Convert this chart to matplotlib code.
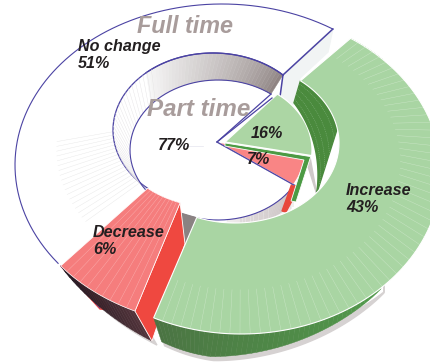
import numpy as np
import matplotlib
matplotlib.use("Agg")
import matplotlib.pyplot as plt
from matplotlib.collections import PolyCollection, LineCollection
from matplotlib.colors import to_rgb

plt.rcParams['font.family'] = ['Liberation Sans', 'DejaVu Sans']

# ------- data -------
full_labels = ["No change", "Decrease", "Increase"]
full_values = [51, 6, 43]
part_values = [77, 7, 16]
ring_titles = ["Full time", "Part time"]

# ------- colours -------
BLUE = "#4b43a3"
TITLE = "#a89c9b"
INK = "#231f20"
GREEN_TOP = "#a9d5a3"
GREEN_DARK = "#4a8a3d"
GREEN_MID = "#4c9a44"
RED_TOP = "#f57d7d"
RED_FACE = "#ef4840"
SHADOW = "#d6d2d2"

full_cum = np.cumsum([0] + full_values) / 100
part_cum = np.cumsum([0] + part_values) / 100


def warp(deg, r, phi=140.0):
    # tilted disc: angles bunch up towards the far side
    z = np.exp(1j * np.radians(deg))
    a = r * np.exp(1j * np.radians(phi))
    w = (z + a) / (1 + np.conj(a) * z)
    t = np.degrees(np.unwrap(np.angle(w)))
    return t + 360 * np.round((deg[0] - t[0]) / 360)


def rim(f0, f1, ell, n=80):
    start, cx, cy, rx, ry, r = ell[:6]
    phi = ell[6] if len(ell) > 6 else 140.0
    deg = start + 360 * np.linspace(f0, f1, n)
    t = np.radians(warp(deg, r, phi))
    return np.column_stack([cx + rx * np.cos(t), cy - ry * np.sin(t)])


def ring(f0, f1, outer, inner):
    return np.vstack([rim(f0, f1, outer), rim(f0, f1, inner)[::-1]])


def blend(c0, c1, u):
    c0, c1 = np.array(to_rgb(c0)), np.array(to_rgb(c1))
    return c0 + (c1 - c0) * np.clip(u, 0, 1)


def strip(ax, top, bottom, c0, c1, gamma=1.0):
    # wall made of small quads, shaded from c0 to c1
    quads, cols = [], []
    n = len(top) - 1
    for i in range(n):
        quads.append([top[i], top[i + 1], bottom[i + 1], bottom[i]])
        cols.append(blend(c0, c1, (i / n) ** gamma))
    ax.add_collection(PolyCollection(quads, facecolors=cols, edgecolors=cols, linewidths=0.3))


def radial(ax, f0, f1, outer, inner, n, reach, color, lw, alpha=1.0):
    # thin facet lines running across a ring
    fr = np.linspace(f0, f1, n + 2)[1:-1]
    a = np.array([rim(f, f, inner, 1)[0] for f in fr])
    b = np.array([rim(f, f, outer, 1)[0] for f in fr])
    ends = a + (b - a) * reach
    segs = [[p, q] for p, q in zip(a, ends)]
    ax.add_collection(LineCollection(segs, colors=color, linewidths=lw, alpha=alpha))


fig = plt.figure(figsize=(4.3, 3.62), dpi=100)
ax = fig.add_axes([0, 0, 1, 1])
ax.set_xlim(0, 430)
ax.set_ylim(362, 0)
ax.axis("off")

# ellipses: start angle, centre x/y, radius x/y, tilt (and tilt direction)
outer_rim = (45.8, 222, 165, 207, 161, 0.103)
dec_outer = (39.0, 222, 165, 207, 161, 0.1, 60.0)
hole_rim = (45.6, 213, 130, 100, 77, 0.0)
inc_outer = (47.6, 241, 173, 200, 161, 0.08)
inc_hole = (47.0, 235, 143, 104, 80, 0.035)
pie_rim = (53.0, 218, 150, 88, 70, 0.0)
pie_green = (53.0, 225, 150, 87, 70, 0.0)
pie_red = (53.0, 218, 150, 87, 70, 0.0)

# --- Full time: No change
no_change = ring(full_cum[0], full_cum[1], outer_rim, hole_rim)
ax.fill(*no_change.T, color="white", zorder=1)
radial(ax, 0.37, full_cum[1] - 0.01, outer_rim, hole_rim, 18, 0.58, "#e6e6e6", 0.3)
o_arc = rim(full_cum[0], full_cum[1], outer_rim)
h_arc = rim(full_cum[0], full_cum[1], hole_rim)
ax.plot(*o_arc.T, color=BLUE, lw=0.8)
ax.plot(*h_arc.T, color=BLUE, lw=0.9)
ax.plot([o_arc[0, 0], h_arc[0, 0]], [o_arc[0, 1], h_arc[0, 1]], color=BLUE, lw=1.1)

# back wall of the hole, down to the Part time pie
p_arc = rim(0, part_cum[1], pie_rim)
n_wall = 40
wall_top = rim(0, 0.24, hole_rim, n_wall)
wall_bot = rim(0, 0.24, pie_rim, n_wall)
strip(ax, wall_top, wall_bot, "#8f8483", "#f8f8f8", 0.75)
ax.plot(*rim(0, 0.24, hole_rim).T, color=BLUE, lw=0.9)

# cut face of No change
ax.fill([h_arc[0, 0], o_arc[0, 0], 328, 300, 293, 281], [h_arc[0, 1], o_arc[0, 1], 52, 78, 105, 97],
        color="#f1f4f4", zorder=1.5)

# left side of the hole wall
radial(ax, 0.22, 0.5, pie_rim, hole_rim, 30, 1.0, "#e4e2e4", 0.3)

# grey wall under the pie front edge
f_top = rim(0.62, part_cum[1], pie_rim, 30)
offs = np.linspace(2, 22, 30)
f_bot = f_top + np.column_stack([-offs * 0.3, offs])
strip(ax, f_top, f_bot, "#efecec", "#cfc8c8", 1.0)
radial(ax, 0.64, part_cum[1], pie_rim, (53.0, 218, 170, 88, 70, 0.0), 24, 1.0, "#bdb2b6", 0.3)

# Part time 77 % pie edge
apex = np.array([217, 142])
ax.plot(*p_arc.T, color=BLUE, lw=0.8)
ax.plot([p_arc[0, 0], apex[0], p_arc[-1, 0]], [p_arc[0, 1], apex[1], p_arc[-1, 1]], color=BLUE, lw=0.9)
ax.plot([h_arc[0, 0], p_arc[0, 0] + 9], [h_arc[0, 1], p_arc[0, 1] + 3], color=BLUE, lw=1.1)
ax.plot([apex[0] - 14, apex[0] - 32], [146, 146], color="#e4e4ee", lw=0.5)

# Part time wedges, red then green with their side faces
r_arc = rim(part_cum[1], part_cum[2], pie_red)
g_arc = rim(part_cum[2], part_cum[3], pie_green)
ax.fill([316, 310, 306, 317], [190, 157, 160, 195], color="#cfc9c9", zorder=2)
ax.fill([r_arc[0, 0] - 2, r_arc[0, 0] + 6, 286, 282], [r_arc[0, 1], r_arc[0, 1] + 2, 212, 211], color="#e8483c", zorder=2)
ax.fill(*np.vstack([r_arc, apex]).T, color="#f98585", ec="white", lw=0.9, zorder=2.2)
ax.plot([apex[0], r_arc[0, 0]], [apex[1], r_arc[0, 1]], color=BLUE, lw=0.9, zorder=2.3)
ax.fill([225, g_arc[0, 0] - 1, 296, 291, 304, 225], [143, g_arc[0, 1] + 1, 202, 201, 160, 146],
        color=GREEN_MID, ec="white", lw=0.6, zorder=2.4)
ax.fill(*np.vstack([g_arc, [225, 142]]).T, color="#acd6a4", ec="white", lw=0.9, zorder=2.5)
ax.plot([217, 272], [142, 98], color=BLUE, lw=0.9, zorder=2.6)

# --- Decrease
d_out = rim(full_cum[1], full_cum[2], dec_outer, 24)
d_in = rim(full_cum[1], full_cum[2], hole_rim, 24)
w = np.linspace(0, 1, 24) ** 0.6
d_low = d_out + np.column_stack([17 * w, 30 * w])
ax.fill(*np.vstack([d_out, d_low[::-1]]).T + np.array([[5], [4]]), color=SHADOW, zorder=3)
ax.fill([d_out[0, 0], 100, 112, 84], [d_out[0, 1], 309, 310, 278], color=RED_FACE, zorder=3.1)
ax.plot([d_out[0, 0], 100], [d_out[0, 1], 308], color=BLUE, lw=0.6, zorder=3.1)
ax.add_collection(PolyCollection(
    [[d_out[i], d_out[i + 1], d_low[i + 1], d_low[i]] for i in range(23)],
    facecolors=[blend("#1f1720", "#51333a", i / 22) for i in range(23)],
    edgecolors=[blend("#1f1720", "#51333a", i / 22) for i in range(23)],
    linewidths=0.3, zorder=3.2))
ax.fill([180, 197, 185], [213, 218, 245], color="#8a8282", zorder=3.2)
ax.fill([d_in[-1, 0], d_out[-1, 0], d_low[-1, 0], 185], [d_in[-1, 1], d_out[-1, 1], d_low[-1, 1], 244],
        color=RED_FACE, ec="white", lw=0.6, zorder=3.3)
ax.fill(*ring(full_cum[1], full_cum[2], dec_outer, hole_rim).T, color=RED_TOP, ec="white", lw=0.5, zorder=3.4)
fr = np.linspace(full_cum[1], full_cum[2], 11)[1:-1]
pa = np.array([rim(f, f, hole_rim, 1)[0] for f in fr])
pb = np.array([rim(f, f, dec_outer, 1)[0] for f in fr])
ax.add_collection(LineCollection(np.stack([pa, pb], axis=1), colors="#fbb0b0", linewidths=0.3, zorder=3.5))

# --- Increase: inner wall, outer wall, top
i_hole = rim(full_cum[2], full_cum[3], inc_hole, 120)
i_out = rim(full_cum[2], full_cum[3], inc_outer, 120)
t_wall = rim(0.89, 1.0, inc_hole, 40)[::-1]
a_low = np.radians(np.linspace(41, -10, 40))
b_wall = np.column_stack([220 + 98 * np.cos(a_low), 175 - 110 * np.sin(a_low)])
ax.fill(*np.vstack([t_wall, b_wall[::-1]]).T, color=GREEN_DARK, zorder=3.6)
for k in np.linspace(0.15, 0.85, 4):
    ax.plot(*(t_wall * (1 - k) + b_wall * k).T, color="#85b580", lw=0.35, ls=(0, (2, 2)), zorder=3.7)

# outer wall tapers away towards the right
span = i_out[:, 0] < 384
front = i_out[span]
u = np.clip((384 - front[:, 0]) / (384 - 215), 0, 1) ** 0.75
low = front + np.column_stack([-4 * u + 12 * np.clip(1 - (front[:, 0] - 155) / 60, 0, 1), 24 * u])
ax.fill(*np.vstack([front, low[::-1]]).T + np.array([[3], [4]]), color=SHADOW, zorder=3.8)
strip_cols = [blend("#4b7443", "#53a24d", i / (len(front) - 2)) for i in range(len(front) - 1)]
ax.add_collection(PolyCollection(
    [[front[i], front[i + 1], low[i + 1], low[i]] for i in range(len(front) - 1)],
    facecolors=strip_cols, edgecolors=strip_cols, linewidths=0.3, zorder=3.9))
ax.fill(*np.vstack([i_out, i_hole[::-1]]).T, color=GREEN_TOP, ec="white", lw=0.8, zorder=4)

fr = np.linspace(full_cum[2], full_cum[3], 60)[1:-1]
pa = np.array([rim(f, f, inc_hole, 1)[0] for f in fr])
pb = np.array([rim(f, f, inc_outer, 1)[0] for f in fr])
segs = np.stack([pb + (pa - pb) * 0.4, pb], axis=1)
ax.add_collection(LineCollection(segs, colors="white", linewidths=0.3, alpha=0.4, zorder=4.1))

# --- text
title_kw = dict(color=TITLE, fontweight="bold", fontstyle="italic", va="baseline", zorder=6)
ax.text(137, 33, ring_titles[0], fontsize=16.8, **title_kw)
ax.text(147, 116, ring_titles[1], fontsize=17.4, **title_kw)

lab_kw = dict(color=INK, fontweight="bold", fontstyle="italic", fontsize=11.6,
              linespacing=1.18, va="center", zorder=6)
ax.text(78, 55, f"{full_labels[0]}\n{full_values[0]}%", **lab_kw)
ax.text(93, 241, f"{full_labels[1]}\n{full_values[1]}%", **lab_kw)
ax.text(346, 199, f"{full_labels[2]}\n{full_values[2]}%", **lab_kw)
ax.text(158, 146, f"{part_values[0]}%", **lab_kw)
ax.text(247, 159, f"{part_values[1]}%", **lab_kw)
ax.text(251, 133, f"{part_values[2]}%", **lab_kw)

fig.savefig("out.png", dpi=100)
